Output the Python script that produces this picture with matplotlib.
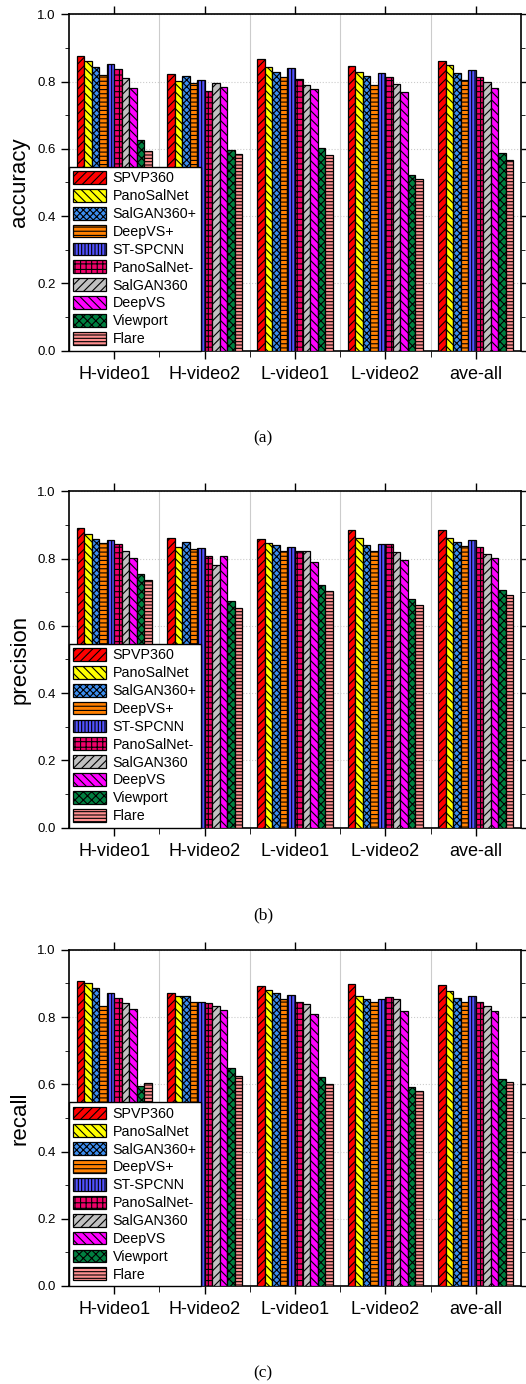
import numpy as np
import matplotlib
matplotlib.use("Agg")
import matplotlib.pyplot as plt
from matplotlib.ticker import MultipleLocator, FixedLocator

plt.rcParams['font.family'] = ['Liberation Sans', 'DejaVu Sans']
plt.rcParams['hatch.linewidth'] = 0.8

videos = ['H-video1', 'H-video2', 'L-video1', 'L-video2', 'ave-all']
methods = ['SPVP360', 'PanoSalNet', 'SalGAN360+', 'DeepVS+', 'ST-SPCNN',
           'PanoSalNet-', 'SalGAN360', 'DeepVS', 'Viewport', 'Flare']

# one row per video, one column per method
accuracy = [
    [0.877, 0.860, 0.843, 0.820, 0.853, 0.836, 0.810, 0.780, 0.625, 0.592],
    [0.822, 0.801, 0.815, 0.795, 0.805, 0.773, 0.795, 0.785, 0.595, 0.584],
    [0.866, 0.843, 0.827, 0.814, 0.841, 0.807, 0.789, 0.779, 0.602, 0.581],
    [0.846, 0.828, 0.815, 0.790, 0.825, 0.813, 0.793, 0.768, 0.522, 0.510],
    [0.860, 0.848, 0.826, 0.806, 0.834, 0.813, 0.800, 0.782, 0.586, 0.567],
]
precision = [
    [0.892, 0.874, 0.859, 0.845, 0.856, 0.842, 0.822, 0.802, 0.754, 0.735],
    [0.862, 0.833, 0.849, 0.829, 0.830, 0.807, 0.781, 0.807, 0.675, 0.654],
    [0.859, 0.845, 0.839, 0.822, 0.834, 0.823, 0.821, 0.790, 0.721, 0.702],
    [0.885, 0.862, 0.839, 0.821, 0.842, 0.842, 0.818, 0.795, 0.681, 0.662],
    [0.886, 0.860, 0.848, 0.836, 0.856, 0.833, 0.814, 0.802, 0.705, 0.693],
]
recall = [
    [0.907, 0.902, 0.887, 0.833, 0.872, 0.857, 0.843, 0.825, 0.595, 0.605],
    [0.872, 0.863, 0.863, 0.846, 0.846, 0.842, 0.832, 0.822, 0.647, 0.626],
    [0.891, 0.880, 0.872, 0.854, 0.866, 0.844, 0.838, 0.808, 0.623, 0.602],
    [0.898, 0.864, 0.855, 0.844, 0.853, 0.861, 0.854, 0.818, 0.592, 0.581],
    [0.895, 0.878, 0.858, 0.846, 0.863, 0.846, 0.833, 0.819, 0.615, 0.606],
]

colors = ['#ff0000', '#ffff00', '#3d8ef0', '#ff8000', '#5252ff',
          '#f0006a', '#c0c0c0', '#ff00ff', '#008040', '#ff9090']
hatches = ['////', '\\\\\\\\', 'xxxxx', '----', '|||||',
           '+++', '////', '\\\\\\\\', 'xxxx', '-----']

W, H = 526, 1384
fig = plt.figure(figsize=(W / 100, H / 100), dpi=100)

panels = [(accuracy, 'accuracy', '(a)', 350.5),
          (precision, 'precision', '(b)', 827.5),
          (recall, 'recall', '(c)', 1286.0)]

x = np.arange(len(videos))
bw = 0.083
n = len(methods)

for data, ylabel, cap, ybot in panels:
    ax = fig.add_axes([69 / W, 1 - ybot / H, 452 / W, 336.2 / H])
    vals = np.array(data)
    for j in range(n):
        ax.bar(x + (j - (n - 1) / 2) * bw, vals[:, j], bw, color=colors[j],
               edgecolor='black', linewidth=0.9, hatch=hatches[j],
               label=methods[j], zorder=3)

    ax.set_xlim(-0.5, 4.5)
    ax.set_ylim(0, 1.0)
    ax.set_xticks(x)
    ax.set_xticklabels(videos, fontsize=13)
    ax.xaxis.set_minor_locator(FixedLocator(np.arange(0.5, 4.5, 1.0)))
    ax.yaxis.set_major_locator(MultipleLocator(0.2))
    ax.yaxis.set_minor_locator(MultipleLocator(0.1))
    ax.yaxis.set_major_formatter(plt.FormatStrFormatter('%.1f'))
    ax.tick_params(axis='y', labelsize=9.5, length=6, width=1, direction='out',
                   right=True)
    ax.tick_params(axis='y', which='minor', length=3, direction='out', right=True)
    ax.tick_params(axis='x', length=6, width=1, direction='out', top=True, pad=5)
    ax.tick_params(axis='x', which='minor', length=4, direction='out')
    ax.grid(axis='y', which='major', color='#cccccc', linestyle=':', linewidth=0.8, zorder=0)
    ax.grid(axis='x', which='minor', color='#cccccc', linestyle='-', linewidth=0.8, zorder=0)
    for s in ax.spines.values():
        s.set_linewidth(1.2)
    ax.set_ylabel(ylabel, fontsize=16, labelpad=5)

    leg = ax.legend(loc='lower left', bbox_to_anchor=(0, 0), borderaxespad=0,
                    fontsize=10.3, frameon=True, fancybox=False, framealpha=1,
                    edgecolor='black', handlelength=2.3, handleheight=1.0,
                    labelspacing=0.25, handletextpad=0.45, borderpad=0.3)
    leg.get_frame().set_linewidth(1.0)
    leg.set_zorder(5)

    fig.text(0.5, 1 - (ybot + 87.5) / H, cap, ha='center', va='center',
             fontsize=12.5, family=['Liberation Serif', 'DejaVu Serif'])

fig.savefig('out.png', dpi=100)
